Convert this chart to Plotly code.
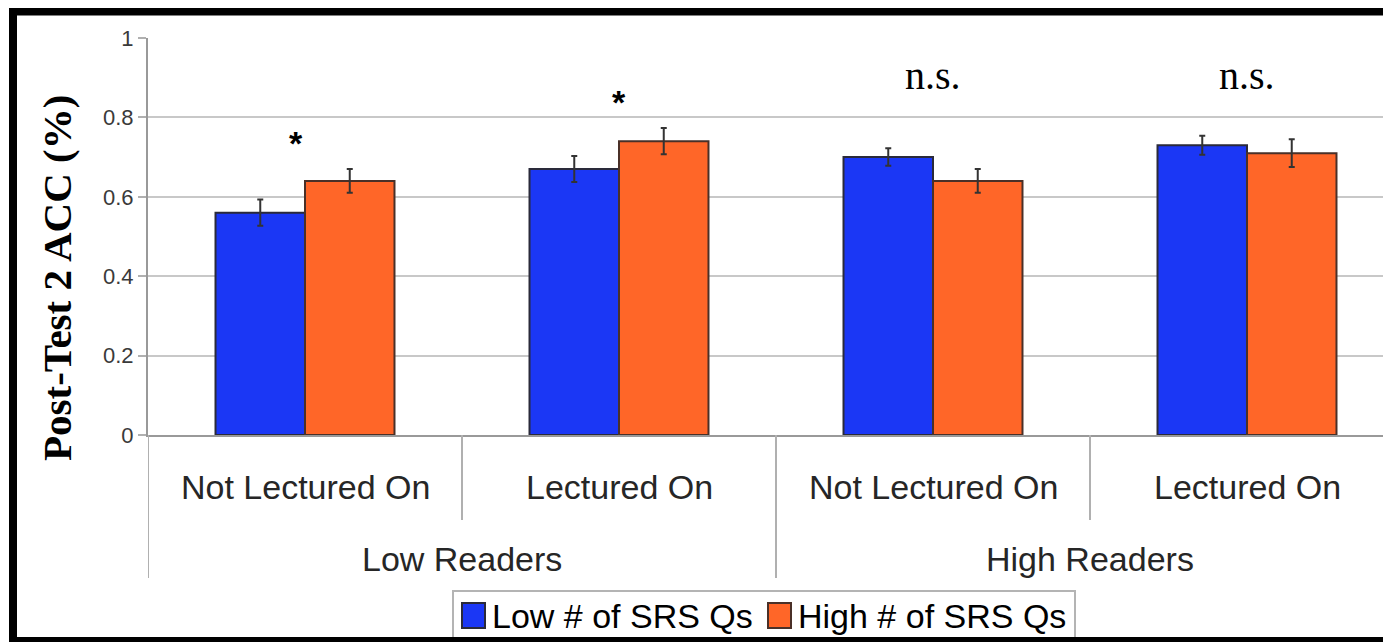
import plotly.graph_objects as go

# ---- data ----
categories = ["Not Lectured On", "Lectured On", "Not Lectured On", "Lectured On"]
groups = ["Low Readers", "High Readers"]
series_names = ["Low # of SRS Qs", "High # of SRS Qs"]
series_colors = ["#1b37f5", "#ff6628"]
low_vals = [0.56, 0.67, 0.70, 0.73]
high_vals = [0.64, 0.74, 0.64, 0.71]
low_err = [0.033, 0.033, 0.022, 0.024]
high_err = [0.030, 0.033, 0.030, 0.035]
sig_labels = ["*", "*", "n.s.", "n.s."]
y_ticks = [0, 0.2, 0.4, 0.6, 0.8, 1]
y_ticktext = ["0", "0.2", "0.4", "0.6", "0.8", "1"]

# page body has an 8px margin in the browser; compensate
OFF = 8
W, H = 1391 - OFF, 642 - OFF
L, R, T, B = 148 - OFF, 0, 38 - OFF, 207
PW, PH = W - L - R, H - T - B

def px_x(px):
    """reference-screen pixel x -> paper coordinate"""
    return (px - OFF - L) / PW

def px_y(py):
    """reference-screen pixel y -> paper coordinate"""
    return (H - B - (py - OFF)) / PH

xpos = list(range(len(categories)))
sans = "Liberation Sans, Arial, sans-serif"
serif = "Liberation Serif, Times New Roman, serif"
outline = ["#2a2a3a", "#4a3028"]

fig = go.Figure()
fig.add_trace(go.Bar(
    x=xpos, y=low_vals, name=series_names[0],
    marker=dict(color=series_colors[0], line=dict(color=outline[0], width=2)),
    error_y=dict(type="data", array=low_err, color="#333333", thickness=2, width=3),
))
fig.add_trace(go.Bar(
    x=xpos, y=high_vals, name=series_names[1],
    marker=dict(color=series_colors[1], line=dict(color=outline[1], width=2)),
    error_y=dict(type="data", array=high_err, color="#333333", thickness=2, width=3),
))

annotations = []
# significance labels
for i, s in enumerate(sig_labels):
    if s == "*":
        yv = max(low_vals[i] + low_err[i], high_vals[i] + high_err[i]) + 0.065
        annotations.append(dict(x=i - (0.03 if i == 0 else 0), y=yv, xref="x", yref="y", text="<b>*</b>",
                                showarrow=False, font=dict(family=sans, size=34, color="black"),
                                yanchor="middle"))
    else:
        annotations.append(dict(x=i, y=0.905, xref="x", yref="y", text=s, showarrow=False,
                                font=dict(family=serif, size=40, color="black"), yanchor="middle"))
# category labels
for i, c in enumerate(categories):
    annotations.append(dict(x=i, y=px_y(487), xref="x", yref="paper", text=c, showarrow=False,
                            font=dict(family=sans, size=34, color="#262626"), yanchor="middle"))
# group labels
for g_i, g in enumerate(groups):
    annotations.append(dict(x=g_i * 2 + 0.5, y=px_y(559), xref="x", yref="paper", text=g,
                            showarrow=False, font=dict(family=sans, size=34, color="#262626"),
                            yanchor="middle"))
# y axis title
annotations.append(dict(x=px_x(57), y=px_y(278), xref="paper", yref="paper",
                        text="<b>Post-Test 2 ACC (%)</b>", textangle=-90, showarrow=False,
                        font=dict(family=serif, size=41, color="black"),
                        xanchor="center", yanchor="middle"))

shapes = []
# dividers
for xv, bottom in [(-0.5, 578), (0.5, 520), (1.5, 578), (2.5, 520)]:
    shapes.append(dict(type="line", xref="x", yref="paper", x0=xv, x1=xv,
                       y0=0, y1=px_y(bottom), line=dict(color="#b0b0b0", width=2)))

# legend box (drawn manually so swatches match the reference size)
shapes.append(dict(type="rect", xref="paper", yref="paper",
                   x0=px_x(453), x1=px_x(1075), y0=px_y(660), y1=px_y(591),
                   line=dict(color="#b4b4b4", width=2), fillcolor="white", layer="above"))
legend_items = [(462, 490), (768, 796)]
for k, (sx, tx) in enumerate(legend_items):
    shapes.append(dict(type="rect", xref="paper", yref="paper",
                       x0=px_x(sx), x1=px_x(sx + 23), y0=px_y(628), y1=px_y(603),
                       line=dict(color=outline[k], width=2), fillcolor=series_colors[k],
                       layer="above"))
    annotations.append(dict(x=px_x(tx), y=px_y(616), xref="paper", yref="paper",
                            text=series_names[k], showarrow=False, xanchor="left",
                            yanchor="middle", font=dict(family=sans, size=34, color="black")))

# outer black frame
shapes.append(dict(type="rect", xref="paper", yref="paper",
                   x0=px_x(13), x1=px_x(1430), y0=px_y(641), y1=px_y(11.5),
                   line=dict(color="black", width=8), layer="above"))

fig.update_layout(
    width=W, height=H,
    margin=dict(l=L, r=R, t=T, b=B, autoexpand=False),
    paper_bgcolor="white", plot_bgcolor="white",
    barmode="group", bargap=0.43, bargroupgap=0,
    showlegend=False,
    annotations=annotations,
    shapes=shapes,
)
fig.update_xaxes(range=[-0.5, -0.5 + PW / 314], showticklabels=False, showgrid=False,
                 zeroline=False, showline=True, linecolor="#999999", linewidth=2,
                 ticks="", fixedrange=True)
fig.update_yaxes(range=[0, 1], tickvals=y_ticks, ticktext=y_ticktext,
                 showgrid=True, gridcolor="#c8c8c8", gridwidth=2,
                 zeroline=False, showline=True, linecolor="#999999", linewidth=2,
                 ticks="outside", ticklen=8, tickcolor="#b0b0b0", tickwidth=2,
                 ticklabelstandoff=0,
                 tickfont=dict(family=sans, size=22, color="#3a3a3a"))

fig.write_html("out.html")
